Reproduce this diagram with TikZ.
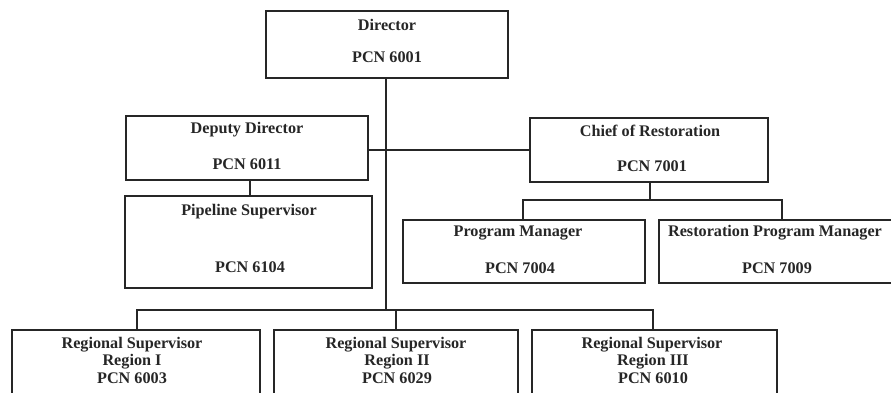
\documentclass[tikz,border=0pt]{standalone}
\usepackage{fontspec}
\setmainfont{Liberation Serif}
\begin{document}
\begin{tikzpicture}[x=1pt,y=-1pt,
  box/.style={draw=black!85,line width=1.7pt,rectangle,inner sep=0pt},
  lbl/.style={font=\fontsize{16.2}{18}\selectfont\bfseries,text=black!85,inner sep=0pt,anchor=center},
  link/.style={draw=black!85,line width=1.3pt}]
\useasboundingbox (0,0) rectangle (891,393);
\clip (0,0) rectangle (891,393);
\newcommand{\orgbox}[5]{\node[box,minimum width=#4-#2,minimum height=#5-#3] (#1) at ({(#2+#4)/2},{(#3+#5)/2}) {};}
\orgbox{dir}{266}{11}{508}{78}
\orgbox{dep}{126}{116}{368}{180}
\orgbox{chf}{530}{118}{768}{182}
\orgbox{pip}{125}{196}{372}{288}
\orgbox{pm}{403}{220}{645}{283}
\orgbox{rpm}{659}{220}{900}{283}
\orgbox{r1}{12}{330}{260}{420}
\orgbox{r2}{274}{330}{518}{420}
\orgbox{r3}{532}{330}{777}{420}
% labels
\node[lbl] (dirA) at (387,25) {Director};
\node[lbl] (dirB) at (387,57) {PCN 6001};
\node[lbl] (depA) at (247,130) {Deputy Director};
\node[lbl] (depB) at (247,164) {PCN 6011};
\node[lbl] (chfA) at (650,131) {Chief of Restoration};
\node[lbl] (chfB) at (652,166) {PCN 7001};
\node[lbl] (pipA) at (249,212) {Pipeline Supervisor};
\node[lbl] (pipB) at (250,267) {PCN 6104};
\node[lbl] (pmA) at (518,233) {Program Manager};
\node[lbl] (pmB) at (520,268) {PCN 7004};
\node[lbl] (rpmA) at (775,233) {Restoration Program Manager};
\node[lbl] (rpmB) at (777,268) {PCN 7009};
\node[lbl] (r1A) at (132,345) {Regional Supervisor};
\node[lbl] (r1B) at (132,362) {Region I};
\node[lbl] (r1C) at (132,378) {PCN 6003};
\node[lbl] (r2A) at (396,345) {Regional Supervisor};
\node[lbl] (r2B) at (397,362) {Region II};
\node[lbl] (r2C) at (397,378) {PCN 6029};
\node[lbl] (r3A) at (652,345) {Regional Supervisor};
\node[lbl] (r3B) at (653,362) {Region III};
\node[lbl] (r3C) at (653,378) {PCN 6010};
% connectors
\coordinate (j1) at (386,150);
\coordinate (j2) at (386,310);
\draw[link] (dir.south -| j1) -- (j2);
\draw[link] (dep.east |- j1) -- (chf.west |- j1);
\draw[link] (dep.south -| 250,0) -- (pip.north -| 250,0);
\coordinate (b1) at (650,200);
\draw[link] (chf.south -| b1) -- (b1);
\draw[link] (pm.north -| 523,0) |- (b1) -| (rpm.north -| 782,0);
\draw[link] (r1.north -| 137,0) |- (j2) -| (r3.north -| 653,0);
\draw[link] (j2 -| 396,0) -- (r2.north -| 396,0);
\end{tikzpicture}
\end{document}
